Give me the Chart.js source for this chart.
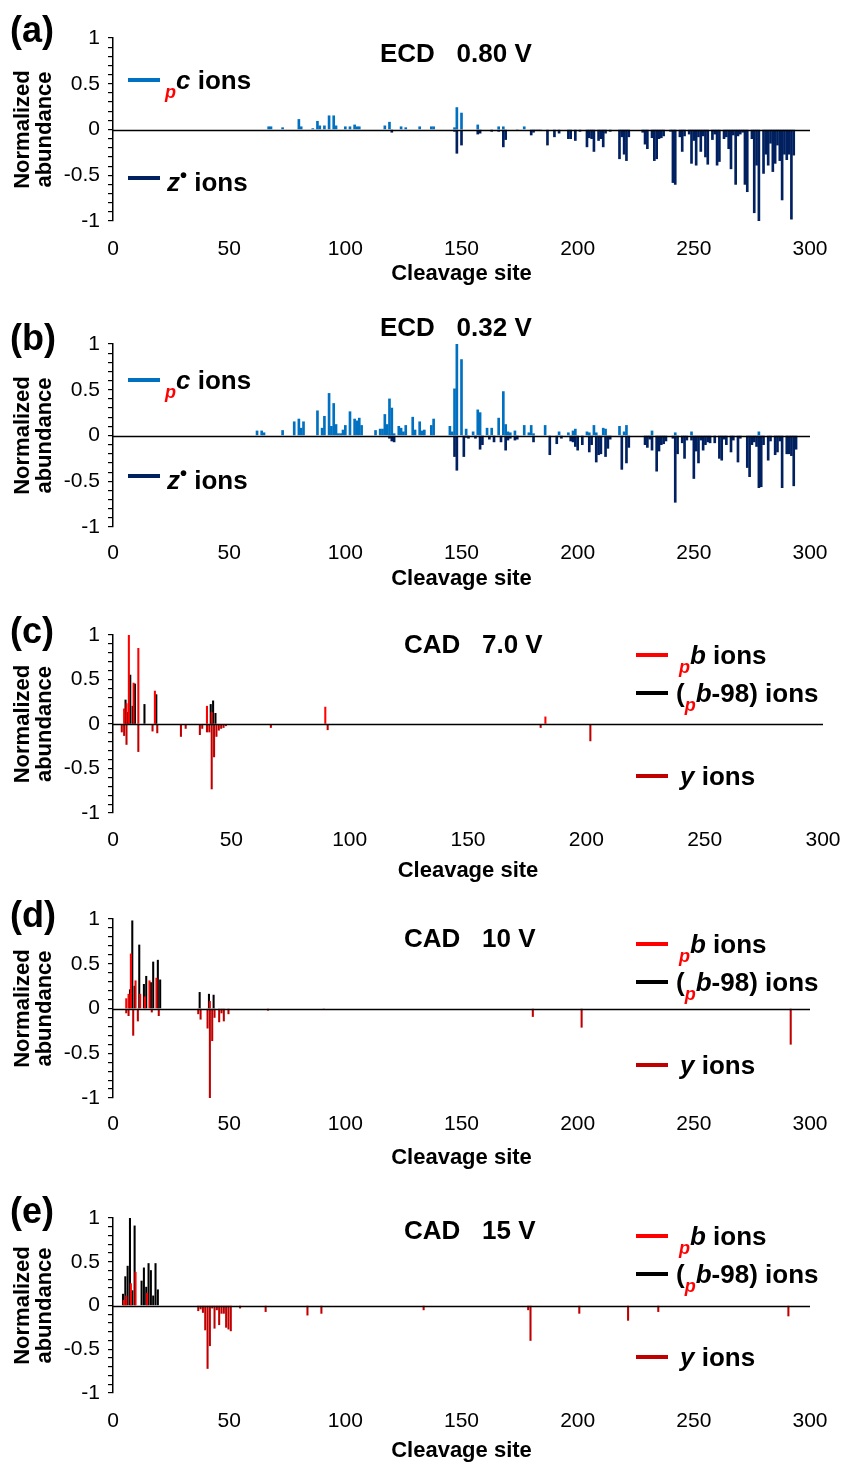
<!DOCTYPE html>
<html>
<head>
<meta charset="utf-8">
<script src="https://cdn.jsdelivr.net/npm/chart.js@4.4.1/dist/chart.umd.min.js"></script>
<style>
  body { margin: 0; background: #fff; width: 843px; height: 1464px; position: relative; overflow: hidden;
         font-family: "Liberation Sans", Arial, sans-serif; color: #000; }
  .panel { position: absolute; left: 0; width: 843px; }
  .panel canvas { display: block; }
  .txt { position: absolute; font-weight: bold; line-height: 1; white-space: pre; }
  .letter { font-size: 36px; }
  .title { font-size: 26px; }
  .leg { font-size: 26px; }
  .key { position: absolute; height: 4px; width: 32px; }
  .sub { color: #ff0000; font-style: italic; font-size: 18px; vertical-align: -9px; }
  .dot { font-size: 20px; vertical-align: 9px; }
</style>
</head>
<body>

<div class="panel" style="top:0px"><canvas id="ca" width="843" height="290"></canvas></div>
<div class="panel" style="top:295px"><canvas id="cb" width="843" height="300"></canvas></div>
<div class="panel" style="top:600px"><canvas id="cc" width="843" height="290"></canvas></div>
<div class="panel" style="top:893px"><canvas id="cd" width="843" height="282"></canvas></div>
<div class="panel" style="top:1188px"><canvas id="ce" width="843" height="276"></canvas></div>

<!-- panel letters -->
<div class="txt letter" style="left:10px;top:12px">(a)</div>
<div class="txt letter" style="left:10px;top:320px">(b)</div>
<div class="txt letter" style="left:10px;top:613px">(c)</div>
<div class="txt letter" style="left:10px;top:897px">(d)</div>
<div class="txt letter" style="left:10px;top:1193px">(e)</div>

<!-- titles -->
<div class="txt title" style="left:380px;top:40px">ECD   0.80 V</div>
<div class="txt title" style="left:380px;top:314px">ECD   0.32 V</div>
<div class="txt title" style="left:404px;top:631px">CAD   7.0 V</div>
<div class="txt title" style="left:404px;top:925px">CAD   10 V</div>
<div class="txt title" style="left:404px;top:1217px">CAD   15 V</div>

<!-- legends (a) -->
<div class="key" style="left:128px;top:78px;background:#0070C0"></div>
<div class="txt leg" style="left:165px;top:67px"><span class="sub">p</span><i>c</i> ions</div>
<div class="key" style="left:128px;top:176px;background:#002060"></div>
<div class="txt leg" style="left:167px;top:165px"><i>z</i><span class="dot">•</span> ions</div>
<!-- legends (b) -->
<div class="key" style="left:128px;top:378px;background:#0070C0"></div>
<div class="txt leg" style="left:165px;top:367px"><span class="sub">p</span><i>c</i> ions</div>
<div class="key" style="left:128px;top:474px;background:#002060"></div>
<div class="txt leg" style="left:167px;top:463px"><i>z</i><span class="dot">•</span> ions</div>
<!-- legends (c) -->
<div class="key" style="left:636px;top:653px;background:#ff0000"></div>
<div class="txt leg" style="left:679px;top:642px"><span class="sub">p</span><i>b</i> ions</div>
<div class="key" style="left:636px;top:691px;background:#000"></div>
<div class="txt leg" style="left:676px;top:680px">(<span class="sub">p</span><i>b</i>-98) ions</div>
<div class="key" style="left:636px;top:774px;background:#c00000"></div>
<div class="txt leg" style="left:680px;top:763px"><i>y</i> ions</div>
<!-- legends (d) -->
<div class="key" style="left:636px;top:942px;background:#ff0000"></div>
<div class="txt leg" style="left:679px;top:931px"><span class="sub">p</span><i>b</i> ions</div>
<div class="key" style="left:636px;top:980px;background:#000"></div>
<div class="txt leg" style="left:676px;top:969px">(<span class="sub">p</span><i>b</i>-98) ions</div>
<div class="key" style="left:636px;top:1063px;background:#c00000"></div>
<div class="txt leg" style="left:680px;top:1052px"><i>y</i> ions</div>
<!-- legends (e) -->
<div class="key" style="left:636px;top:1234px;background:#ff0000"></div>
<div class="txt leg" style="left:679px;top:1223px"><span class="sub">p</span><i>b</i> ions</div>
<div class="key" style="left:636px;top:1272px;background:#000"></div>
<div class="txt leg" style="left:676px;top:1261px">(<span class="sub">p</span><i>b</i>-98) ions</div>
<div class="key" style="left:636px;top:1355px;background:#c00000"></div>
<div class="txt leg" style="left:680px;top:1344px"><i>y</i> ions</div>

<script>
// [cleavage site, normalized abundance]
const ecd080C = [[67,0.03],[68,0.03],[73,0.02],[80,0.11],[81,0.03],[86,0.01],[88,0.09],[89,0.04],[91,0.04],[93,0.15],[95,0.15],[96,0.04],[100,0.03],[102,0.03],[104,0.05],[105,0.03],[106,0.03],[117,0.04],[119,0.08],[124,0.03],[126,0.02],[132,0.03],[137,0.03],[138,0.03],[147,0.02],[148,0.24],[150,0.18],[157,0.05],[166,0.03],[168,0.03],[177,0.03]];
const ecd080Z = [[120,-0.03],[147,-0.02],[148,-0.26],[150,-0.17],[157,-0.05],[158,-0.04],[163,-0.02],[166,-0.02],[168,-0.19],[169,-0.11],[174,-0.01],[180,-0.06],[181,-0.03],[182,-0.01],[183,-0.01],[184,-0.01],[187,-0.17],[190,-0.08],[192,-0.04],[196,-0.10],[197,-0.10],[199,-0.12],[201,-0.02],[204,-0.19],[205,-0.09],[206,-0.10],[207,-0.24],[209,-0.12],[210,-0.10],[211,-0.19],[212,-0.04],[214,-0.02],[218,-0.32],[219,-0.08],[220,-0.27],[221,-0.34],[222,-0.08],[228,-0.03],[229,-0.16],[230,-0.21],[232,-0.09],[233,-0.34],[234,-0.32],[235,-0.10],[236,-0.09],[237,-0.07],[240,-0.02],[241,-0.58],[242,-0.60],[244,-0.08],[245,-0.24],[246,-0.07],[248,-0.05],[249,-0.37],[250,-0.12],[251,-0.39],[252,-0.08],[253,-0.24],[254,-0.07],[255,-0.30],[256,-0.38],[258,-0.11],[259,-0.05],[260,-0.39],[261,-0.35],[263,-0.10],[264,-0.08],[265,-0.21],[266,-0.43],[267,-0.06],[268,-0.60],[269,-0.07],[270,-0.05],[271,-0.03],[272,-0.60],[273,-0.68],[275,-0.10],[276,-0.91],[277,-0.39],[278,-1.0],[280,-0.48],[281,-0.27],[282,-0.39],[283,-0.15],[284,-0.46],[285,-0.37],[286,-0.17],[287,-0.34],[288,-0.77],[289,-0.27],[290,-0.33],[291,-0.27],[292,-0.98],[293,-0.28]];

const ecd032C = [[62,0.05],[64,0.05],[65,0.03],[73,0.055],[78,0.15],[80,0.18],[81,0.08],[82,0.15],[88,0.27],[90,0.08],[91,0.21],[93,0.46],[94,0.10],[95,0.35],[96,0.12],[97,0.02],[98,0.02],[99,0.06],[100,0.11],[102,0.26],[104,0.18],[105,0.16],[106,0.19],[107,0.11],[113,0.055],[115,0.07],[116,0.07],[117,0.23],[118,0.12],[119,0.40],[120,0.30],[121,0.02],[123,0.10],[124,0.08],[125,0.04],[126,0.11],[129,0.20],[130,0.06],[132,0.15],[133,0.05],[134,0.06],[137,0.11],[138,0.18],[145,0.10],[146,0.04],[147,0.51],[148,1.0],[150,0.83],[152,0.07],[155,0.04],[157,0.28],[158,0.25],[161,0.08],[163,0.08],[166,0.19],[168,0.48],[169,0.12],[170,0.04],[171,0.03],[173,0.05],[177,0.11],[179,0.03],[180,0.11],[181,0.02],[186,0.11],[192,0.04],[196,0.03],[198,0.05],[199,0.07],[204,0.04],[205,0.03],[207,0.11],[208,0.03],[211,0.08],[212,0.07],[218,0.10],[220,0.04],[221,0.11],[232,0.05],[242,0.03],[249,0.04],[278,0.04]];
const ecd032Z = [[119,-0.03],[120,-0.06],[121,-0.07],[147,-0.23],[148,-0.38],[151,-0.23],[152,-0.02],[153,-0.03],[156,-0.03],[158,-0.15],[159,-0.10],[162,-0.04],[164,-0.07],[167,-0.07],[169,-0.16],[170,-0.05],[171,-0.03],[173,-0.05],[174,-0.04],[181,-0.07],[188,-0.21],[191,-0.09],[193,-0.03],[197,-0.06],[198,-0.07],[199,-0.12],[200,-0.16],[202,-0.10],[205,-0.18],[206,-0.10],[208,-0.29],[209,-0.21],[210,-0.20],[212,-0.23],[213,-0.14],[214,-0.04],[219,-0.37],[221,-0.30],[222,-0.13],[229,-0.10],[230,-0.13],[231,-0.04],[232,-0.16],[234,-0.39],[235,-0.17],[236,-0.10],[237,-0.09],[238,-0.06],[241,-0.03],[242,-0.73],[243,-0.20],[245,-0.08],[246,-0.25],[247,-0.05],[249,-0.05],[250,-0.47],[251,-0.17],[252,-0.30],[253,-0.05],[254,-0.16],[255,-0.10],[256,-0.07],[257,-0.08],[259,-0.08],[261,-0.25],[262,-0.27],[263,-0.04],[264,-0.10],[266,-0.18],[267,-0.05],[269,-0.29],[270,-0.03],[273,-0.35],[274,-0.45],[275,-0.10],[276,-0.07],[277,-0.12],[278,-0.57],[279,-0.56],[280,-0.10],[282,-0.27],[283,-0.06],[285,-0.21],[286,-0.18],[287,-0.06],[288,-0.57],[290,-0.20],[291,-0.20],[292,-0.22],[293,-0.55],[294,-0.15]];

const cad70B = [[5,0.17],[6,0.23],[7,1.0],[9,0.46],[11,0.85],[18,0.37],[40,0.20],[42,0.13],[90,0.19],[183,0.08]];
const cad70B98 = [[5,0.27],[6,0.13],[7,0.55],[8,0.20],[9,0.45],[13,0.22],[18,0.33],[41,0.22],[42,0.26],[43,0.12]];
const cad70Y = [[4,-0.09],[5,-0.13],[6,-0.23],[11,-0.31],[17,-0.08],[19,-0.10],[29,-0.14],[31,-0.05],[37,-0.12],[38,-0.05],[40,-0.09],[41,-0.09],[42,-0.73],[43,-0.37],[44,-0.14],[45,-0.07],[46,-0.05],[47,-0.04],[48,-0.02],[67,-0.04],[91,-0.065],[181,-0.04],[202,-0.19]];

const cad10B = [[6,0.11],[7,0.16],[8,0.61],[10,0.31],[12,0.16],[14,0.13],[16,0.31],[19,0.34],[42,0.08]];
const cad10B98 = [[7,0.21],[8,0.98],[9,0.25],[11,0.71],[13,0.27],[14,0.36],[16,0.29],[17,0.52],[19,0.54],[20,0.32],[37,0.18],[41,0.16],[43,0.15]];
const cad10Y = [[6,-0.05],[7,-0.08],[9,-0.30],[11,-0.14],[17,-0.04],[20,-0.08],[37,-0.06],[38,-0.12],[41,-0.22],[42,-1.0],[43,-0.36],[44,-0.10],[46,-0.15],[47,-0.05],[48,-0.14],[50,-0.06],[67,-0.02],[91,-0.01],[181,-0.09],[202,-0.21],[292,-0.40]];

const cad15B = [[5,0.06],[6,0.11],[8,0.25],[10,0.38],[15,0.14]];
const cad15B98 = [[4,0.13],[5,0.33],[6,0.45],[7,1.0],[8,0.17],[9,0.91],[12,0.28],[13,0.43],[14,0.21],[15,0.48],[16,0.40],[17,0.11],[18,0.48],[19,0.18]];
const cad15Y = [[37,-0.06],[38,-0.04],[39,-0.08],[40,-0.28],[41,-0.72],[42,-0.46],[43,-0.03],[44,-0.26],[45,-0.05],[46,-0.22],[47,-0.09],[48,-0.09],[49,-0.25],[50,-0.27],[51,-0.29],[55,-0.03],[66,-0.07],[84,-0.11],[90,-0.09],[134,-0.05],[179,-0.05],[180,-0.40],[201,-0.09],[222,-0.17],[235,-0.07],[291,-0.12]];

const siteMin = 0, siteMax = 300, siteStep = 50;

Chart.defaults.font.family = '"Liberation Sans", Arial, sans-serif';
Chart.defaults.color = '#000';

const toXY = pairs => pairs.map(p => ({ x: p[0], y: p[1] }));

// the horizontal axis sits at y = 0
const zeroLine = {
  id: 'zeroLine',
  afterDatasetsDraw(chart) {
    const { ctx, chartArea, scales } = chart;
    const y = Math.round(scales.y.getPixelForValue(0)) + 0.5;
    ctx.save();
    ctx.strokeStyle = '#000';
    ctx.lineWidth = 1.5;
    ctx.beginPath();
    ctx.moveTo(chartArea.left, y);
    ctx.lineTo(chartArea.right, y);
    ctx.stroke();
    ctx.restore();
  }
};

function yLabel(v) {
  const r = Math.round(v * 10) / 10;
  return Math.abs(r * 2 - Math.round(r * 2)) < 1e-9 ? String(r) : '';
}

function makePanel(id, g, series, thickness) {
  // invisible tick marks push the site labels down without widening the side padding
  const labelDrop = g.labelY - g.plotBottom - 10;
  const titlePad = Math.max(0, g.top + g.h - g.titleY - 14.5);
  return new Chart(document.getElementById(id), {
    type: 'bar',
    data: {
      datasets: series.map(s => ({
        label: s.label,
        data: toXY(s.data),
        backgroundColor: s.color,
        stack: s.stack,
        barThickness: thickness,
        borderWidth: 0
      }))
    },
    options: {
      responsive: false,
      animation: false,
      events: [],
      layout: { padding: { top: g.plotTop - g.top, right: 843 - g.right, left: 0, bottom: 0 } },
      plugins: { legend: { display: false }, tooltip: { enabled: false } },
      scales: {
        x: {
          type: 'linear', min: siteMin, max: siteMax, offset: false,
          grid: { display: true, drawOnChartArea: false, drawTicks: true, tickLength: labelDrop,
                  color: 'rgba(0,0,0,0)', offset: false },
          border: { display: false },
          ticks: { stepSize: siteStep, font: { size: 21 }, padding: 0, maxRotation: 0 },
          title: { display: true, text: 'Cleavage site', font: { size: 22, weight: 'bold' },
                   padding: { top: 0, bottom: titlePad } },
          afterFit: s => { s.height = g.top + g.h - g.plotBottom; }
        },
        y: {
          min: -1, max: 1, stacked: true,
          ticks: { stepSize: 0.1, autoSkip: false, callback: yLabel, font: { size: 21 }, padding: 8 },
          grid: { drawOnChartArea: false, color: '#000', tickLength: 5, lineWidth: 1.2 },
          border: { color: '#000', width: 1.5 },
          title: { display: true, text: ['Normalized', 'abundance'],
                   font: { size: 22, weight: 'bold', lineHeight: 1.0 }, padding: { top: 12, bottom: 0 } },
          afterFit: s => { s.width = 113; }
        }
      }
    },
    plugins: [zeroLine]
  });
}

const geoA = { top: 0, h: 290, plotTop: 38, plotBottom: 221, labelY: 247, titleY: 273, right: 810 };
const geoB = { top: 295, h: 300, plotTop: 344, plotBottom: 527, labelY: 551, titleY: 578, right: 810 };
const geoC = { top: 600, h: 290, plotTop: 635, plotBottom: 813, labelY: 838, titleY: 870, right: 823 };
const geoD = { top: 893, h: 282, plotTop: 919, plotBottom: 1098, labelY: 1122, titleY: 1157, right: 810 };
const geoE = { top: 1188, h: 276, plotTop: 1218, plotBottom: 1393, labelY: 1419, titleY: 1452, right: 810 };

const cColor = '#0070C0', zColor = '#002060';
const bColor = '#ff0000', b98Color = '#000000', yColor = '#c00000';

makePanel('ca', geoA, [
  { label: 'pc ions', data: ecd080C, color: cColor, stack: 'ecd' },
  { label: 'z ions', data: ecd080Z, color: zColor, stack: 'ecd' }
], 2);
makePanel('cb', geoB, [
  { label: 'pc ions', data: ecd032C, color: cColor, stack: 'ecd' },
  { label: 'z ions', data: ecd032Z, color: zColor, stack: 'ecd' }
], 2);

function cadSeries(b, b98, y) {
  return [
    { label: 'pb ions', data: b, color: bColor, stack: 'left' },
    { label: '(pb-98) ions', data: b98, color: b98Color, stack: 'right' },
    { label: 'y ions', data: y, color: yColor, stack: 'left' }
  ];
}
makePanel('cc', geoC, cadSeries(cad70B, cad70B98, cad70Y), 1.4);
makePanel('cd', geoD, cadSeries(cad10B, cad10B98, cad10Y), 1.4);
makePanel('ce', geoE, cadSeries(cad15B, cad15B98, cad15Y), 1.4);
</script>
</body>
</html>
